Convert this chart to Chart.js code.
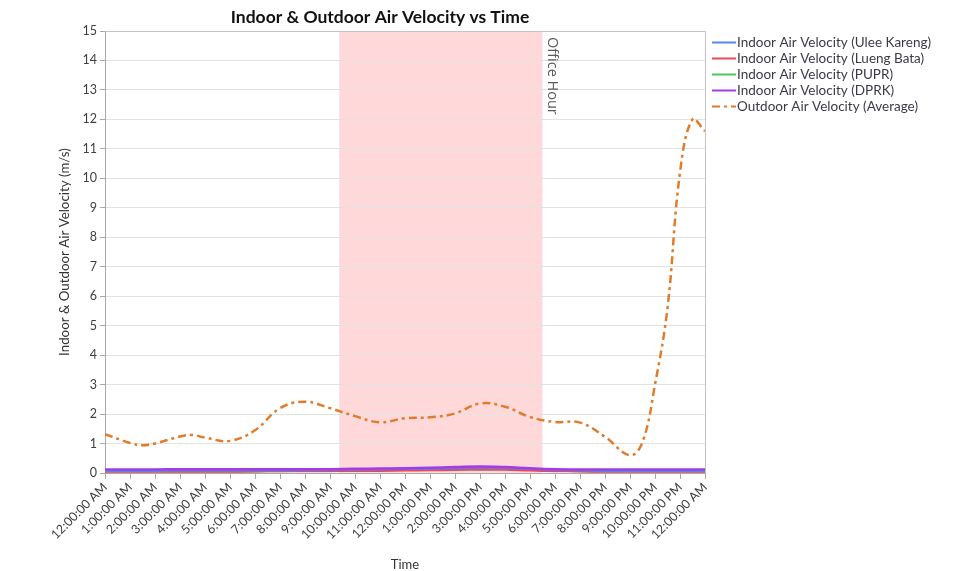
<!DOCTYPE html>
<html>
<head>
<meta charset="utf-8">
<script src="https://cdn.jsdelivr.net/npm/chart.js@4/dist/chart.umd.min.js"></script>
<style>
  html, body { margin: 0; padding: 0; background: #ffffff; }
  #wrap { width: 957px; height: 571px; position: relative; }
</style>
</head>
<body>
<div id="wrap"><canvas id="chart" width="957" height="571"></canvas></div>
<script>
// Hour of day for each indoor reading (0 = midnight, 24 = next midnight)
const hours = [0,1,2,3,4,5,6,7,8,9,10,11,12,13,14,15,16,17,18,19,20,21,22,23,24];

// Tick labels along the time axis
const timeLabels = [
  '12:00:00 AM','1:00:00 AM','2:00:00 AM','3:00:00 AM','4:00:00 AM','5:00:00 AM',
  '6:00:00 AM','7:00:00 AM','8:00:00 AM','9:00:00 AM','10:00:00 AM','11:00:00 AM',
  '12:00:00 PM','1:00:00 PM','2:00:00 PM','3:00:00 PM','4:00:00 PM','5:00:00 PM',
  '6:00:00 PM','7:00:00 PM','8:00:00 PM','9:00:00 PM','10:00:00 PM','11:00:00 PM',
  '12:00:00 AM'
];

// Indoor air velocity (m/s) per site
const uleeKareng = [0.08,0.08,0.08,0.09,0.09,0.09,0.09,0.09,0.10,0.11,0.12,0.13,0.14,0.15,0.17,0.19,0.18,0.14,0.11,0.09,0.08,0.08,0.08,0.08,0.08];
const luengBata  = [0.05,0.05,0.05,0.05,0.05,0.05,0.06,0.07,0.07,0.07,0.08,0.08,0.09,0.10,0.11,0.12,0.12,0.09,0.07,0.06,0.05,0.05,0.05,0.05,0.05];
const pupr       = [0.06,0.06,0.06,0.06,0.06,0.06,0.06,0.07,0.08,0.09,0.10,0.11,0.12,0.13,0.14,0.15,0.14,0.12,0.09,0.07,0.06,0.06,0.06,0.06,0.06];
const dprk       = [0.12,0.12,0.12,0.13,0.13,0.13,0.13,0.13,0.13,0.13,0.14,0.15,0.16,0.18,0.20,0.22,0.20,0.16,0.13,0.12,0.12,0.12,0.12,0.12,0.12];

// Outdoor air velocity (m/s), average of sites
const outdoorHours = [0,1,1.5,2,3,3.5,4,5,6,7,8,9,10,11,12,13,14,15,16,17,18,19,20,21,21.5,22,22.5,23,23.5,24];
const outdoorAvg   = [1.32,1.02,0.94,1.0,1.24,1.29,1.2,1.09,1.45,2.2,2.42,2.2,1.93,1.72,1.86,1.89,2.02,2.36,2.25,1.9,1.73,1.71,1.23,0.6,1.05,3.0,5.6,10.2,12.0,11.6];

// Office hour window (hours)
const officeStart = 9.37;
const officeEnd = 17.5;

const seriesNames = [
  'Indoor Air Velocity (Ulee Kareng)',
  'Indoor Air Velocity (Lueng Bata)',
  'Indoor Air Velocity (PUPR)',
  'Indoor Air Velocity (DPRK)',
  'Outdoor Air Velocity (Average)'
];
const seriesColors = ['#5588E8', '#E8485A', '#4CC45A', '#A43BE6', '#E07C2C'];
// Stacking of the lines: lower value is drawn on top
const drawOrder = [3, 4, 5, 1, 0];
const outdoorDash = [8, 4, 3, 4];

const FONT = 'Lato, "Open Sans", sans-serif';

function pairs(xs, ys) { return xs.map((x, i) => ({ x: x, y: ys[i] })); }

// Shaded office-hour band behind the grid, with its vertical caption
const officeBand = {
  id: 'officeBand',
  beforeDraw(chart) {
    const { ctx, chartArea: a, scales: { x } } = chart;
    const x0 = x.getPixelForValue(officeStart);
    const x1 = x.getPixelForValue(officeEnd);
    ctx.save();
    ctx.fillStyle = '#FFD8DA';
    ctx.fillRect(x0, a.top, x1 - x0, a.bottom - a.top);
    ctx.restore();
  },
  afterDatasetsDraw(chart) {
    const { ctx, chartArea: a, scales: { x } } = chart;
    const x1 = x.getPixelForValue(officeEnd);
    ctx.save();
    ctx.translate(x1 + 2, a.top + 6);
    ctx.rotate(Math.PI / 2);
    ctx.font = '14.5px "Open Sans", sans-serif';
    ctx.fillStyle = '#5a5a5a';
    ctx.textAlign = 'left';
    ctx.textBaseline = 'bottom';
    ctx.fillText('Office Hour', 0, 0);
    ctx.restore();
  }
};

// Plot frame (top and right edges)
const plotFrame = {
  id: 'plotFrame',
  beforeDatasetsDraw(chart) {
    const { ctx, chartArea: a } = chart;
    ctx.save();
    ctx.strokeStyle = '#c4c4c4';
    ctx.lineWidth = 1;
    ctx.beginPath();
    ctx.moveTo(a.left, a.top + 0.5);
    ctx.lineTo(a.right + 0.5, a.top + 0.5);
    ctx.lineTo(a.right + 0.5, a.bottom);
    ctx.stroke();
    ctx.restore();
  }
};

// Heading and series key
const headingAndKey = {
  id: 'headingAndKey',
  afterDraw(chart) {
    const { ctx } = chart;
    ctx.save();
    ctx.font = 'bold 17.5px ' + FONT;
    ctx.fillStyle = '#111111';
    ctx.textAlign = 'center';
    ctx.textBaseline = 'middle';
    ctx.fillText('Indoor & Outdoor Air Velocity vs Time', 380, 17);

    ctx.font = '13.5px ' + FONT;
    ctx.textAlign = 'left';
    seriesNames.forEach((name, i) => {
      const y = 42.5 + i * 16;
      ctx.strokeStyle = seriesColors[i];
      ctx.lineWidth = 2;
      ctx.setLineDash(i === 4 ? [8, 4, 3, 4] : []);
      ctx.beginPath();
      ctx.moveTo(712, y);
      ctx.lineTo(736, y);
      ctx.stroke();
      ctx.setLineDash([]);
      ctx.fillStyle = '#3a3a4a';
      ctx.fillText(name, 737, y + 0.5);
    });
    ctx.restore();
  }
};

const indoorSeries = [uleeKareng, luengBata, pupr, dprk];
const datasets = indoorSeries.map((vals, i) => ({
  label: seriesNames[i],
  data: pairs(hours, vals),
  borderColor: seriesColors[i],
  backgroundColor: seriesColors[i],
  borderWidth: 2.5,
  pointRadius: 0,
  tension: 0.4,
  order: drawOrder[i],
  fill: false
}));
datasets.push({
  label: seriesNames[4],
  data: pairs(outdoorHours, outdoorAvg),
  borderColor: seriesColors[4],
  backgroundColor: seriesColors[4],
  borderWidth: 2.5,
  borderDash: outdoorDash,
  pointRadius: 0,
  tension: 0.4,
  order: drawOrder[4],
  fill: false
});

new Chart(document.getElementById('chart'), {
  type: 'line',
  data: { datasets: datasets },
  options: {
    responsive: false,
    animation: false,
    devicePixelRatio: 1,
    layout: { padding: { top: 31, right: 252, left: 0, bottom: 0 } },
    plugins: {
      legend: { display: false },
      title: { display: false },
      tooltip: { enabled: false }
    },
    scales: {
      x: {
        type: 'linear',
        min: 0,
        max: 24,
        afterFit(s) { s.height = 98; },
        ticks: {
          stepSize: 1,
          autoSkip: false,
          minRotation: 45,
          maxRotation: 45,
          padding: 1,
          color: '#404040',
          font: { family: FONT, size: 12.5 },
          callback: (v) => timeLabels[v]
        },
        grid: { drawOnChartArea: false, drawTicks: true, tickLength: 6, tickColor: '#a8a8a8' },
        border: { color: '#a8a8a8', width: 1 },
        title: {
          display: true,
          text: 'Time',
          color: '#333333',
          font: { family: FONT, size: 13 },
          padding: { top: 0, bottom: -2 }
        }
      },
      y: {
        type: 'linear',
        min: 0,
        max: 15,
        afterFit(s) { s.width = 105; },
        ticks: {
          stepSize: 1,
          padding: 3,
          color: '#404040',
          font: { family: FONT, size: 12.5 }
        },
        grid: { color: '#e2e2e2', lineWidth: 1, tickLength: 5, tickColor: '#a8a8a8' },
        border: { color: '#a8a8a8', width: 1 },
        title: {
          display: true,
          text: 'Indoor & Outdoor Air Velocity (m/s)',
          color: '#333333',
          font: { family: FONT, size: 13.3 },
          padding: { top: 57, bottom: 0 }
        }
      }
    }
  },
  plugins: [officeBand, plotFrame, headingAndKey]
});
</script>
</body>
</html>
